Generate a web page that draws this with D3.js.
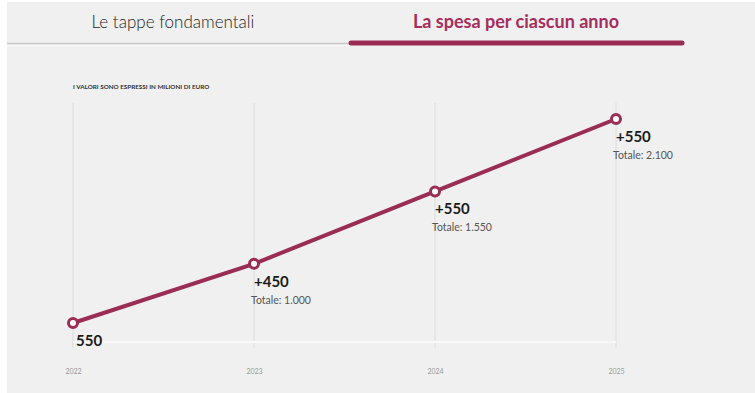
<!DOCTYPE html>
<meta charset="utf-8">
<style>
  body { margin: 0; background: #fff; }
  svg { display: block; font-family: Lato, "Open Sans", sans-serif; }
</style>
<body>
<div id="chart"></div>
<script src="https://d3js.org/d3.v7.min.js"></script>
<script>
// data
var years = [2022, 2023, 2024, 2025];
var totals = [550, 1000, 1550, 2100];
var deltas = ["550", "+450", "+550", "+550"];
var totalLabels = ["", "Totale: 1.000", "Totale: 1.550", "Totale: 2.100"];
var tabs = ["Le tappe fondamentali", "La spesa per ciascun anno"];
var subtitle = "I VALORI SONO ESPRESSI IN MILIONI DI EURO";

var W = 755, H = 393;
var red = "#9b2d55";

var svg = d3.select("#chart").append("svg")
    .attr("width", W)
    .attr("height", H);

// background panel
svg.append("rect")
    .attr("x", 7).attr("y", 2)
    .attr("width", W - 7).attr("height", H - 2)
    .attr("fill", "#f0f0f0");

// tabs
svg.append("line")
    .attr("x1", 7).attr("x2", 350)
    .attr("y1", 43.5).attr("y2", 43.5)
    .attr("stroke", "#c8c8c8").attr("stroke-width", 1.5);
svg.append("line")
    .attr("x1", 7).attr("x2", 350)
    .attr("y1", 45.5).attr("y2", 45.5)
    .attr("stroke", "#fbfbfb").attr("stroke-width", 1);
svg.append("line")
    .attr("x1", 351).attr("x2", 682)
    .attr("y1", 43).attr("y2", 43)
    .attr("stroke", red).attr("stroke-width", 5)
    .attr("stroke-linecap", "round");

svg.append("text")
    .attr("x", 173).attr("y", 28)
    .attr("text-anchor", "middle")
    .attr("font-size", "17px")
    .attr("font-weight", 300)
    .attr("fill", "#222")
    .text(tabs[0]);
svg.append("text")
    .attr("x", 516).attr("y", 28)
    .attr("text-anchor", "middle")
    .attr("font-size", "18px")
    .attr("font-weight", "bold")
    .attr("fill", "#a62d5c")
    .text(tabs[1]);

// subtitle
svg.append("text")
    .attr("x", 73).attr("y", 89)
    .attr("font-size", "6.3px")
    .attr("font-weight", "bold")
    .attr("fill", "#333")
    .text(subtitle);

// scales
var x = d3.scalePoint().domain(years).range([73, 616]);
var y = d3.scaleLinear().domain([0, 2100]).range([395.4, 119]);

// grid
svg.selectAll(".vgrid")
    .data(years)
  .enter().append("line")
    .attr("class", "vgrid")
    .attr("x1", function(d) { return x(d); })
    .attr("x2", function(d) { return x(d); })
    .attr("y1", 103).attr("y2", 348)
    .attr("stroke", "#e3e3e3").attr("stroke-width", 1.5);
svg.append("line")
    .attr("x1", 73).attr("x2", 616)
    .attr("y1", 342).attr("y2", 342)
    .attr("stroke", "#f9f9f9").attr("stroke-width", 2);

// x axis labels
svg.append("g")
    .attr("transform", "translate(0,371)")
    .call(d3.axisBottom(x).tickSize(0))
    .call(function(g) { g.select(".domain").remove(); })
    .selectAll("text")
    .attr("font-family", "Lato, sans-serif")
    .attr("font-size", "7px")
    .attr("fill", "#9a9a9a")
    .attr("dy", 0);

// line
var line = d3.line()
    .x(function(d, i) { return x(years[i]); })
    .y(function(d) { return y(d); });

svg.append("path")
    .datum(totals)
    .attr("fill", "none")
    .attr("stroke", red)
    .attr("stroke-width", 4)
    .attr("d", line);

svg.selectAll(".dot")
    .data(totals)
  .enter().append("circle")
    .attr("class", "dot")
    .attr("cx", function(d, i) { return x(years[i]); })
    .attr("cy", function(d) { return y(d); })
    .attr("r", 4.5)
    .attr("fill", "#fff")
    .attr("stroke", red)
    .attr("stroke-width", 3);

// labels
svg.selectAll(".delta")
    .data(totals)
  .enter().append("text")
    .attr("class", "delta")
    .attr("x", function(d, i) { return x(years[i]) + (i === 0 ? 3 : 0); })
    .attr("y", function(d) { return y(d) + 23; })
    .attr("font-size", "15px")
    .attr("font-weight", "bold")
    .attr("fill", "#1a1a1a")
    .text(function(d, i) { return deltas[i]; });

svg.selectAll(".total")
    .data(totals)
  .enter().append("text")
    .attr("class", "total")
    .attr("x", function(d, i) { return x(years[i]) - 3; })
    .attr("y", function(d) { return y(d) + 40; })
    .attr("font-size", "10.5px")
    .attr("fill", "#555")
    .text(function(d, i) { return totalLabels[i]; });
</script>
</body>
